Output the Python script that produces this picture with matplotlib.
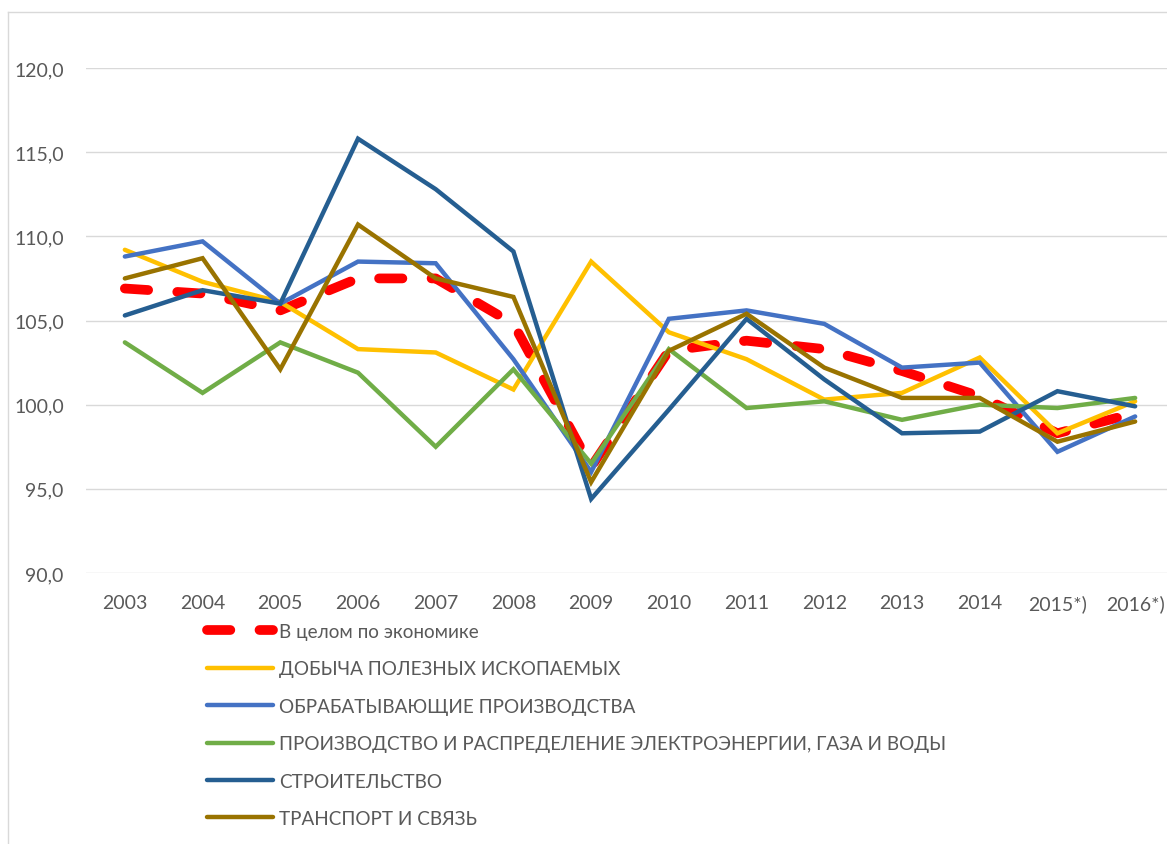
import matplotlib
matplotlib.use("Agg")
import matplotlib.pyplot as plt
from matplotlib.lines import Line2D

plt.rcParams['font.family'] = ['Lato', 'DejaVu Sans']

years = ['2003', '2004', '2005', '2006', '2007', '2008', '2009', '2010',
         '2011', '2012', '2013', '2014', '2015*)', '2016*)']

economy      = [106.9, 106.6, 105.6, 107.5, 107.5, 104.8, 96.3, 103.2, 103.8, 103.3, 102.0, 100.5, 98.3, 99.5]
mining       = [109.2, 107.3, 106.1, 103.3, 103.1, 100.9, 108.5, 104.3, 102.7, 100.3, 100.7, 102.8, 98.3, 100.2]
manufacture  = [108.8, 109.7, 106.0, 108.5, 108.4, 102.7, 96.0, 105.1, 105.6, 104.8, 102.2, 102.5, 97.2, 99.3]
utilities    = [103.7, 100.7, 103.7, 101.9, 97.5, 102.1, 96.5, 103.3, 99.8, 100.2, 99.1, 100.0, 99.8, 100.4]
construction = [105.3, 106.8, 106.0, 115.8, 112.8, 109.1, 94.4, 99.7, 105.1, 101.5, 98.3, 98.4, 100.8, 99.9]
transport    = [107.5, 108.7, 102.1, 110.7, 107.5, 106.4, 95.4, 103.2, 105.4, 102.2, 100.4, 100.4, 97.8, 99.0]

labels = ['В целом по экономике',
          'ДОБЫЧА ПОЛЕЗНЫХ ИСКОПАЕМЫХ',
          'ОБРАБАТЫВАЮЩИЕ ПРОИЗВОДСТВА',
          'ПРОИЗВОДСТВО И РАСПРЕДЕЛЕНИЕ ЭЛЕКТРОЭНЕРГИИ, ГАЗА И ВОДЫ',
          'СТРОИТЕЛЬСТВО',
          'ТРАНСПОРТ И СВЯЗЬ']
colors = ['#FF0000', '#FFC000', '#4472C4', '#70AD47', '#255E91', '#997300']
series = [economy, mining, manufacture, utilities, construction, transport]

W, H = 1167, 845
fig = plt.figure(figsize=(W / 100, H / 100), dpi=100)
ax = fig.add_axes([86 / W, (H - 574) / H, (1174 - 86) / W, (574 - 69) / H])

x = list(range(len(years)))
handles = []
for i, (vals, lab, col) in enumerate(zip(series, labels, colors)):
    if i == 0:
        ln, = ax.plot(x, vals, color=col, lw=7, dashes=(2.4, 3.0),
                      dash_capstyle='round', solid_capstyle='round', label=lab, zorder=2)
    else:
        ln, = ax.plot(x, vals, color=col, lw=3.2, solid_capstyle='round',
                      solid_joinstyle='miter', label=lab, zorder=2 + i)
    handles.append(ln)

ax.set_xlim(-0.5, len(years) - 0.5)
ax.set_ylim(90, 120)
ax.set_yticks([90, 95, 100, 105, 110, 115, 120])
ax.set_yticklabels(['90,0', '95,0', '100,0', '105,0', '110,0', '115,0', '120,0'])
ax.set_xticks(x)
ax.set_xticklabels(years)
ax.tick_params(axis='both', length=0, labelsize=14, labelcolor='#595959')
ax.tick_params(axis='y', pad=16)
ax.tick_params(axis='x', pad=15)
ax.grid(axis='y', color='#D9D9D9', lw=1.0)
ax.set_axisbelow(True)
for s in ax.spines.values():
    s.set_visible(False)

leg = fig.legend(handles=handles, labels=labels, loc='upper left',
                 bbox_to_anchor=(207 / W, 1 - 624 / H), frameon=False,
                 fontsize=13.6, handlelength=3.5, handletextpad=0.3,
                 labelspacing=1.08, borderpad=0, borderaxespad=0)
for t in leg.get_texts():
    t.set_color('#595959')

# chart area border (left and top edges visible)
fig.add_artist(Line2D([8 / W, 8 / W], [0, 1 - 13 / H], transform=fig.transFigure,
                      color='#D9D9D9', lw=1.0))
fig.add_artist(Line2D([8 / W, 1], [1 - 13 / H, 1 - 13 / H], transform=fig.transFigure,
                      color='#D9D9D9', lw=1.0))

fig.savefig('out.png', dpi=100, facecolor='white')
